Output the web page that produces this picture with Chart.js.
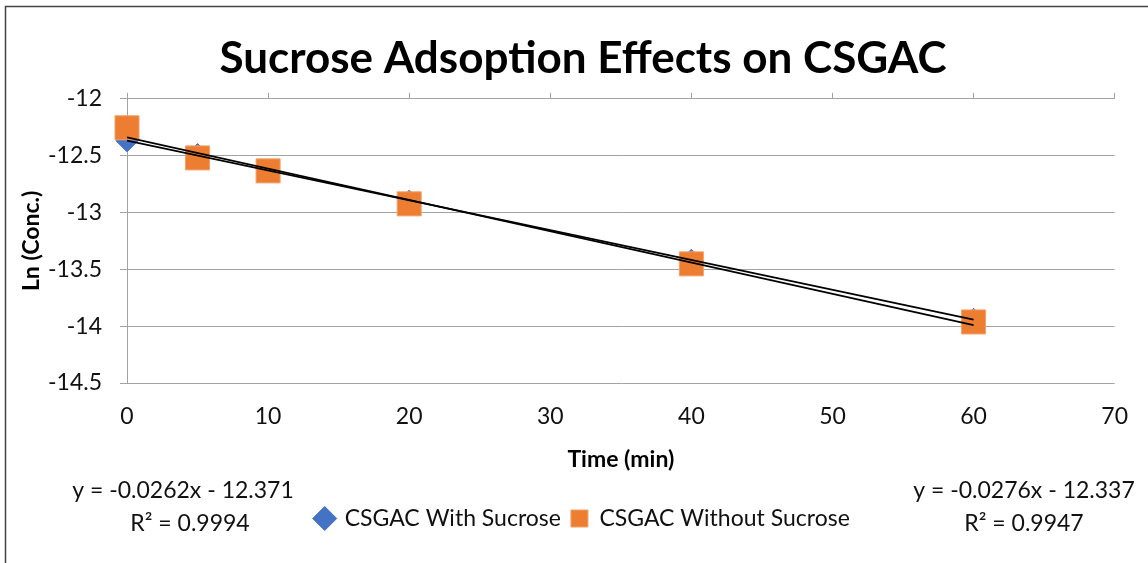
<!DOCTYPE html>
<html>
<head>
<meta charset="utf-8">
<style>
  html, body { margin: 0; padding: 0; background: #fff; }
  #wrap { width: 1148px; height: 563px; }
</style>
<script src="https://cdn.jsdelivr.net/npm/chart.js@4.4.1/dist/chart.umd.min.js"></script>
</head>
<body>
<div id="wrap"><canvas id="chart" width="1148" height="563"></canvas></div>
<script>
const timeMin = [0, 5, 10, 20, 40, 60];
const withSucrose = [-12.37, -12.49, -12.63, -12.90, -13.42, -13.94];
const withoutSucrose = [-12.255, -12.52, -12.634, -12.924, -13.452, -13.963];

const seriesNames = ['CSGAC With Sucrose', 'CSGAC Without Sucrose'];
const eqWith = ['y = -0.0262x - 12.371', 'R² = 0.9994'];
const eqWithout = ['y = -0.0276x - 12.337', 'R² = 0.9947'];

const FONT = 'Lato, "Open Sans", sans-serif';
const TXT = 23;
const GRID = '#a3a3a3';

function toPoints(xs, ys) {
    return xs.map((x, i) => ({ x, y: ys[i] }));
}

// linear least squares, drawn over the data range like an Excel trendline
function trendPoints(xs, ys) {
    const n = xs.length;
    const mx = xs.reduce((a, b) => a + b, 0) / n;
    const my = ys.reduce((a, b) => a + b, 0) / n;
    let sxy = 0, sxx = 0;
    xs.forEach((x, i) => {
        sxy += (x - mx) * (ys[i] - my);
        sxx += (x - mx) * (x - mx);
    });
    const slope = sxy / sxx;
    const icpt = my - slope * mx;
    const lo = Math.min(...xs), hi = Math.max(...xs);
    return [{ x: lo, y: icpt + slope * lo }, { x: hi, y: icpt + slope * hi }];
}

const frame = {
    id: 'frame',
    beforeDraw(chart) {
        const { ctx } = chart;
        ctx.save();
        ctx.fillStyle = '#fff';
        ctx.fillRect(0, 0, chart.width, chart.height);
        ctx.strokeStyle = '#444';
        ctx.lineWidth = 1.5;
        ctx.beginPath();
        ctx.moveTo(5.5, chart.height);
        ctx.lineTo(5.5, 6.5);
        ctx.lineTo(chart.width, 6.5);
        ctx.stroke();
        ctx.restore();
    },
};

const equations = {
    id: 'equations',
    afterDraw(chart) {
        const { ctx } = chart;
        ctx.save();
        ctx.font = TXT + 'px ' + FONT;
        ctx.fillStyle = '#111';
        ctx.textAlign = 'center';
        ctx.textBaseline = 'middle';
        ctx.fillText(eqWith[0], 183, 491);
        ctx.fillText(eqWith[1], 190, 524);
        ctx.fillText(eqWithout[0], 1024, 491);
        ctx.fillText(eqWithout[1], 1024, 524);
        ctx.restore();
    },
};

new Chart(document.getElementById('chart'), {
    type: 'scatter',
    data: {
        datasets: [
            {
                label: seriesNames[0],
                data: toPoints(timeMin, withSucrose),
                pointStyle: 'rectRot',
                pointRadius: 11,
                backgroundColor: '#4472c4',
                borderColor: '#4472c4',
                borderWidth: 1,
                clip: false,
                order: 2,
            },
            {
                label: seriesNames[1],
                data: toPoints(timeMin, withoutSucrose),
                pointStyle: 'rect',
                pointRadius: 17,
                backgroundColor: '#ed7d31',
                borderColor: '#f4a06a',
                borderWidth: 1,
                clip: false,
                order: 1,
            },
            {
                label: 'trend-with',
                data: trendPoints(timeMin, withSucrose),
                showLine: true,
                borderColor: '#000',
                borderWidth: 1.8,
                pointRadius: 0,
                order: 0,
            },
            {
                label: 'trend-without',
                data: trendPoints(timeMin, withoutSucrose),
                showLine: true,
                borderColor: '#000',
                borderWidth: 1.8,
                pointRadius: 0,
                order: 0,
            },
        ],
    },
    options: {
        responsive: false,
        animation: false,
        devicePixelRatio: 1,
        layout: { padding: { left: 18, right: 0, top: 0, bottom: 23 } },
        plugins: {
            title: {
                display: true,
                text: 'Sucrose Adsoption Effects on CSGAC',
                color: '#000',
                font: { family: FONT, size: 44, weight: 'bold' },
                padding: { top: 32, bottom: 8 },
            },
            legend: {
                position: 'bottom',
                labels: {
                    filter: (item) => item.datasetIndex < 2,
                    sort: (a, b) => a.datasetIndex - b.datasetIndex,
                    usePointStyle: true,
                    boxWidth: 17,
                    boxHeight: 17,
                    color: '#111',
                    padding: 10,
                    font: { family: FONT, size: TXT },
                },
            },
            tooltip: { enabled: false },
        },
        scales: {
            x: {
                type: 'linear',
                position: 'bottom',
                min: 0,
                max: 70,
                grid: { display: false, drawTicks: false },
                border: { display: false },
                ticks: {
                    stepSize: 10,
                    padding: 20,
                    color: '#111',
                    font: { family: FONT, size: TXT },
                },
                title: {
                    display: true,
                    text: 'Time (min)',
                    color: '#000',
                    font: { family: FONT, size: TXT, weight: 'bold' },
                    padding: { top: 0, bottom: 24 },
                },
                afterFit: (scale) => { scale.height = 114; },
            },
            xTop: {
                type: 'linear',
                position: 'top',
                min: 0,
                max: 70,
                grid: { drawOnChartArea: false, drawTicks: true, tickLength: 6, color: GRID },
                border: { display: true, color: GRID },
                ticks: { stepSize: 10, display: false },
            },
            y: {
                min: -14.5,
                max: -12,
                grid: { color: GRID, tickLength: 7 },
                border: { display: true, color: GRID },
                ticks: {
                    stepSize: 0.5,
                    padding: 18,
                    color: '#111',
                    font: { family: FONT, size: TXT },
                    callback: (v) => String(v),
                },
                title: {
                    display: true,
                    text: 'Ln (Conc.)',
                    color: '#000',
                    font: { family: FONT, size: TXT, weight: 'bold' },
                    padding: { top: 0, bottom: 0 },
                },
                afterFit: (scale) => { scale.width = 109; },
            },
            yRight: {
                position: 'right',
                grid: { display: false },
                border: { display: false },
                ticks: { display: false },
                afterFit: (scale) => { scale.width = 31; },
            },
        },
    },
    plugins: [frame, equations],
});
</script>
</body>
</html>
